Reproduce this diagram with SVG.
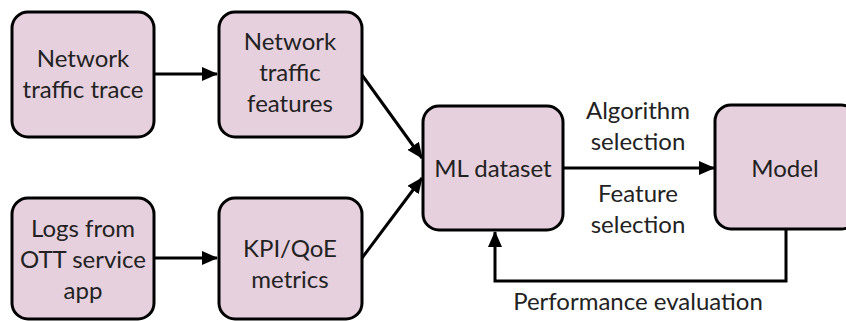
<svg xmlns="http://www.w3.org/2000/svg" width="846" height="321" viewBox="0 0 846 321">
<style>
.box{fill:#e6d0de;stroke:#000;stroke-width:3}
.t{font-family:Lato,"Open Sans",sans-serif;font-size:24px;fill:#222;text-anchor:middle}
.c{fill:none;stroke:#000;stroke-width:3}
</style>
<defs>
<marker id="ah" markerUnits="userSpaceOnUse" markerWidth="16" markerHeight="14" refX="15" refY="7" orient="auto">
<path d="M0,0 L16,7 L0,14 Z" fill="#000"/>
</marker>
</defs>
<rect width="846" height="321" fill="#fff"/>
<g id="connectors">
<line class="c" x1="154" y1="74" x2="217" y2="74" marker-end="url(#ah)"/>
<line class="c" x1="154" y1="258" x2="217" y2="258" marker-end="url(#ah)"/>
<line class="c" x1="362" y1="75" x2="422" y2="158" marker-end="url(#ah)"/>
<line class="c" x1="362" y1="258" x2="422" y2="178" marker-end="url(#ah)"/>
<line class="c" x1="563" y1="168" x2="714" y2="168" marker-end="url(#ah)"/>
<polyline class="c" points="786,229 786,281 495,281 495,232" marker-end="url(#ah)"/>
<text class="t" x="638" y="119">Algorithm</text>
<text class="t" x="638" y="150">selection</text>
<text class="t" x="638" y="202">Feature</text>
<text class="t" x="638" y="233">selection</text>
<text class="t" x="638" y="310">Performance evaluation</text>
</g>
<g id="n1"><rect class="box" x="12" y="12" width="142" height="125" rx="16"/>
<text class="t" x="83" y="67">Network</text><text class="t" x="83" y="98">traffic trace</text></g>
<g id="n2"><rect class="box" x="219" y="12" width="143" height="125" rx="16"/>
<text class="t" x="290" y="50">Network</text><text class="t" x="290" y="81">traffic</text><text class="t" x="290" y="112">features</text></g>
<g id="n3"><rect class="box" x="12" y="198" width="142" height="121" rx="16"/>
<text class="t" x="83" y="237">Logs from</text><text class="t" x="83" y="268">OTT service</text><text class="t" x="83" y="299">app</text></g>
<g id="n4"><rect class="box" x="219" y="198" width="143" height="121" rx="16"/>
<text class="t" x="290" y="257">KPI/QoE</text><text class="t" x="290" y="288">metrics</text></g>
<g id="n5"><rect class="box" x="423" y="106" width="140" height="124" rx="16"/>
<text class="t" x="493" y="177">ML dataset</text></g>
<g id="n6"><rect class="box" x="715" y="105" width="142" height="124" rx="16"/>
<text class="t" x="785" y="177">Model</text></g>
</svg>
